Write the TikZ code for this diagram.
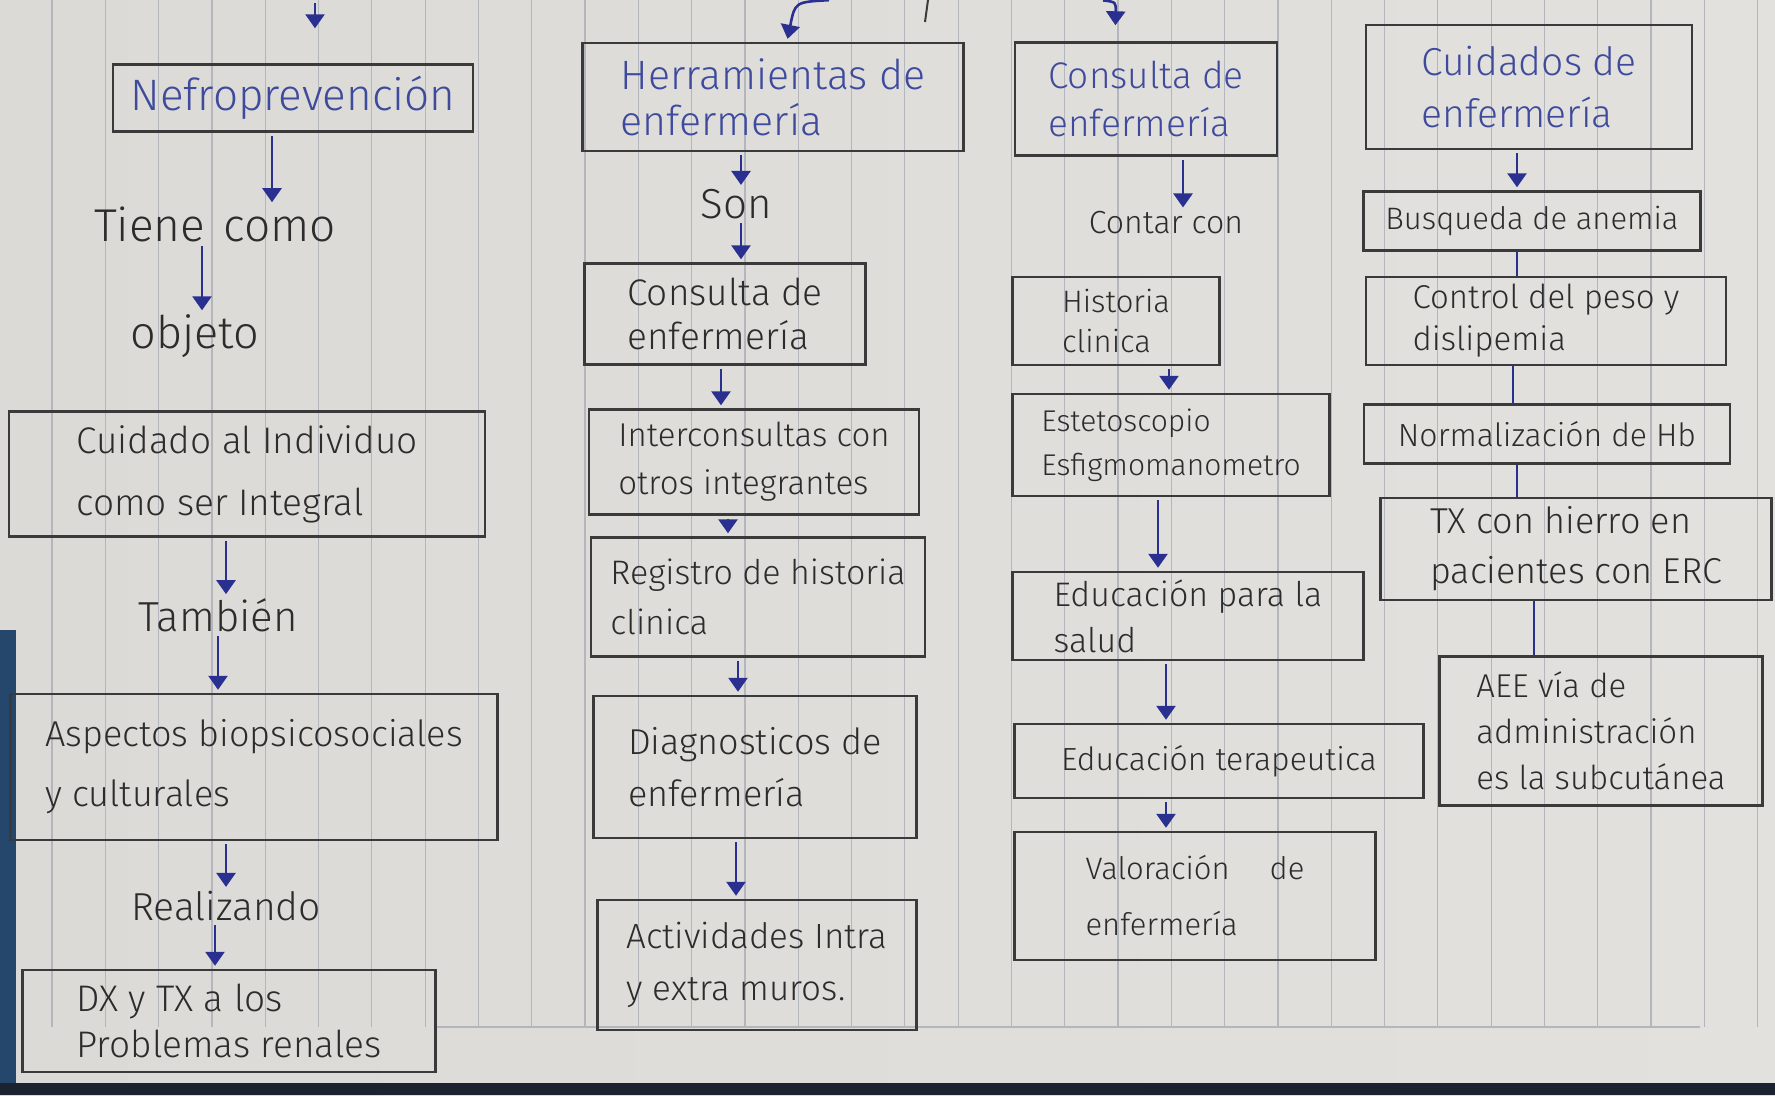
\documentclass[tikz,border=0pt]{standalone}
\usepackage{fontspec}
\setmainfont{Fira Sans Light}
\usetikzlibrary{arrows.meta}

\definecolor{papel}{HTML}{DCDAD6}
\definecolor{papelclaro}{HTML}{E3E1DD}
\definecolor{raya}{HTML}{B4B6BE}
\definecolor{tinta}{HTML}{3A3A3A}
\definecolor{lapiz}{HTML}{2C2C2C}
\definecolor{azul}{HTML}{3E4A9C}
\definecolor{boli}{HTML}{2A3090}
\definecolor{borde}{HTML}{26476C}
\definecolor{fondo}{HTML}{1C2330}

\begin{document}
\begin{tikzpicture}[x=1pt,y=-1pt,
    caja/.style={draw=tinta, line width=2.4pt, align=left, inner sep=0pt, text=lapiz},
    titulo/.style={caja, text=azul},
    palabra/.style={text=lapiz, inner sep=1pt},
    letra/.style 2 args={font=\fontsize{#1}{#2}\selectfont},
    flecha/.style={draw=boli, line width=2.6pt, -{Triangle[width=19pt,length=14pt]}, shorten <=3pt, shorten >=3pt},
    enlace/.style={draw=boli, line width=2.6pt},
    renglon/.style={draw=raya, line width=1.2pt}]
                      \useasboundingbox (0,0) rectangle (1775,1095);
                      \shade[left color=papel, right color=papelclaro] (0,0) rectangle (1775,1095);
                      \foreach \i in {0,...,32}
                          \draw[renglon] ({52+53.3*\i},0) -- ({52+53.3*\i},1027);
                      \draw[renglon] (436,1027) -- (1700,1027);
                      \fill[borde] (0,630) rectangle (16,1095);
                      \fill[fondo] (0,1083) rectangle (1775,1095);

                      \node[titulo, letra={44}{50}, minimum width=360, minimum height=67] (nefro) at (293,98) {Nefroprevención};
                      \node[palabra, letra={46}{50}] (tiene) at (215,224) {Tiene\hspace{18pt}como};
                      \node[palabra, letra={45}{50}] (objeto) at (195,336) {objeto};
                      \node[caja, letra={37}{62}, minimum width=476, minimum height=125] (cuidado) at (247,474) {Cuidado al Individuo\\como ser Integral};
                      \node[palabra, letra={42}{50}] (tambien) at (218,615) {También};
                      \node[caja, letra={36}{60}, minimum width=487, minimum height=146] (aspectos) at (254,767) {Aspectos biopsicosociales\\y culturales};
                      \node[palabra, letra={39}{50}] (realizando) at (226,906) {Realizando};
                      \node[caja, letra={37}{46}, minimum width=413, minimum height=102] (dx) at (229,1021) {DX y TX a los\\Problemas renales};

                      \node[titulo, letra={41}{46}, minimum width=381, minimum height=108] (herr) at (773,97) {Herramientas de\\enfermería};
                      \node[palabra, letra={42}{50}] (son) at (736,204) {Son};
                      \node[caja, letra={37}{44}, minimum width=281, minimum height=101] (consulta) at (725,314) {Consulta de\\enfermería};
                      \node[caja, letra={33}{48}, minimum width=330, minimum height=105] (inter) at (754,462) {Interconsultas con\\otros integrantes};
                      \node[caja, letra={34}{50}, minimum width=334, minimum height=119] (registro) at (758,597) {Registro de historia\\clinica};
                      \node[caja, letra={36}{52}, minimum width=323, minimum height=142] (diag) at (755,767) {Diagnosticos de\\enfermería};
                      \node[caja, letra={35}{52}, minimum width=319, minimum height=130] (activ) at (757,965) {Actividades Intra\\y extra muros.};

                      \node[titulo, letra={37}{48}, minimum width=262, minimum height=113] (consultab) at (1146,99) {Consulta de\\enfermería};
                      \node[palabra, letra={32}{40}] (contar) at (1166,223) {Contar con};
                      \node[caja, letra={31}{40}, minimum width=207, minimum height=88] (historia) at (1116,321) {Historia\\clinica};
                      \node[caja, letra={30}{44}, minimum width=317, minimum height=102] (esteto) at (1171,445) {Estetoscopio\\Esfigmomanometro};
                      \node[caja, letra={34}{46}, minimum width=351, minimum height=88] (educa) at (1188,616) {Educación para la\\salud};
                      \node[caja, letra={32}{40}, minimum width=409, minimum height=74] (terapia) at (1219,761) {Educación terapeutica};
                      \node[caja, letra={31}{56}, minimum width=361, minimum height=128] (valor) at (1195,896) {Valoración\hspace{40pt}de\\enfermería};

                      \node[titulo, letra={39}{52}, minimum width=326, minimum height=124] (cuidados) at (1529,87) {Cuidados de\\enfermería};
                      \node[caja, letra={31}{40}, minimum width=337, minimum height=59] (anemia) at (1532,221) {Busqueda de anemia};
                      \node[caja, letra={33}{42}, minimum width=360, minimum height=88] (peso) at (1546,321) {Control del peso y\\dislipemia};
                      \node[caja, letra={32}{40}, minimum width=366, minimum height=59] (hb) at (1547,434) {Normalización de Hb};
                      \node[caja, letra={36}{50}, minimum width=391, minimum height=102] (hierro) at (1576,549) {TX con hierro en\\pacientes con ERC};
                      \node[caja, letra={33}{46}, minimum width=323, minimum height=149] (aee) at (1601,731) {AEE vía de\\administración\\es la subcutánea};

                      \coordinate (sube1) at (315,0);
                      \coordinate (sube2) at (832,0);
                      \coordinate (sube3) at (1100,0);
                      \coordinate (trazo) at (928,0);
                      \draw[flecha, shorten >=35pt] (sube1) -- (sube1 |- nefro.north);
                      \draw[flecha] (sube2) .. controls (795,2) .. ([xshift=14pt]herr.north);
                      \draw[flecha, shorten >=16pt] (sube3) .. controls (1116,2) .. ([xshift=-31pt]consultab.north);
                      \draw[line width=2pt, tinta] (trazo) -- ++(-3,22);

                      \draw[flecha] ([xshift=-21pt]nefro.south) -- ([xshift=57pt]tiene.north);
                      \draw[flecha] ([xshift=-13pt]tiene.south) -- ([xshift=7pt]objeto.north);
                      \draw[flecha] ([xshift=-21pt]cuidado.south) -- ([xshift=8pt]tambien.north);
                      \draw[flecha] (tambien.south) -- ([xshift=-36pt]aspectos.north);
                      \draw[flecha] ([xshift=-28pt]aspectos.south) -- (realizando.north);
                      \draw[flecha] ([xshift=-11pt]realizando.south) -- ([xshift=-14pt]dx.north);

                      \draw[flecha] ([xshift=-32pt]herr.south) -- ([xshift=5pt]son.north);
                      \draw[flecha] ([xshift=5pt]son.south) -- ([xshift=16pt]consulta.north);
                      \draw[flecha] ([xshift=-4pt]consulta.south) -- ([xshift=-33pt]inter.north);
                      \draw[flecha] ([xshift=-26pt]inter.south) -- ([xshift=-30pt]registro.north);
                      \draw[flecha] ([xshift=-20pt]registro.south) -- ([xshift=-17pt]diag.north);
                      \draw[flecha] ([xshift=-19pt]diag.south) -- ([xshift=-21pt]activ.north);

                      \draw[flecha] ([xshift=37pt]consultab.south) -- ([xshift=17pt]contar.north);
                      \draw[flecha] ([xshift=53pt]historia.south) -- ([xshift=-2pt]esteto.north);
                      \draw[flecha] ([xshift=-13pt]esteto.south) -- ([xshift=-30pt]educa.north);
                      \draw[flecha] ([xshift=-22pt]educa.south) -- ([xshift=-53pt]terapia.north);
                      \draw[flecha] ([xshift=-53pt]terapia.south) -- ([xshift=-29pt]valor.north);

                      \draw[flecha] ([xshift=-12pt]cuidados.south) -- ([xshift=-15pt]anemia.north);
                      \draw[enlace] ([xshift=-15pt]anemia.south) -- ([xshift=-29pt]peso.north);
                      \draw[enlace] ([xshift=-33pt]peso.south) -- ([xshift=-34pt]hb.north);
                      \draw[enlace] ([xshift=-30pt]hb.south) -- ([xshift=-59pt]hierro.north);
                      \draw[enlace] ([xshift=-42pt]hierro.south) -- ([xshift=-67pt]aee.north);
                  \end{tikzpicture}
\end{document}
